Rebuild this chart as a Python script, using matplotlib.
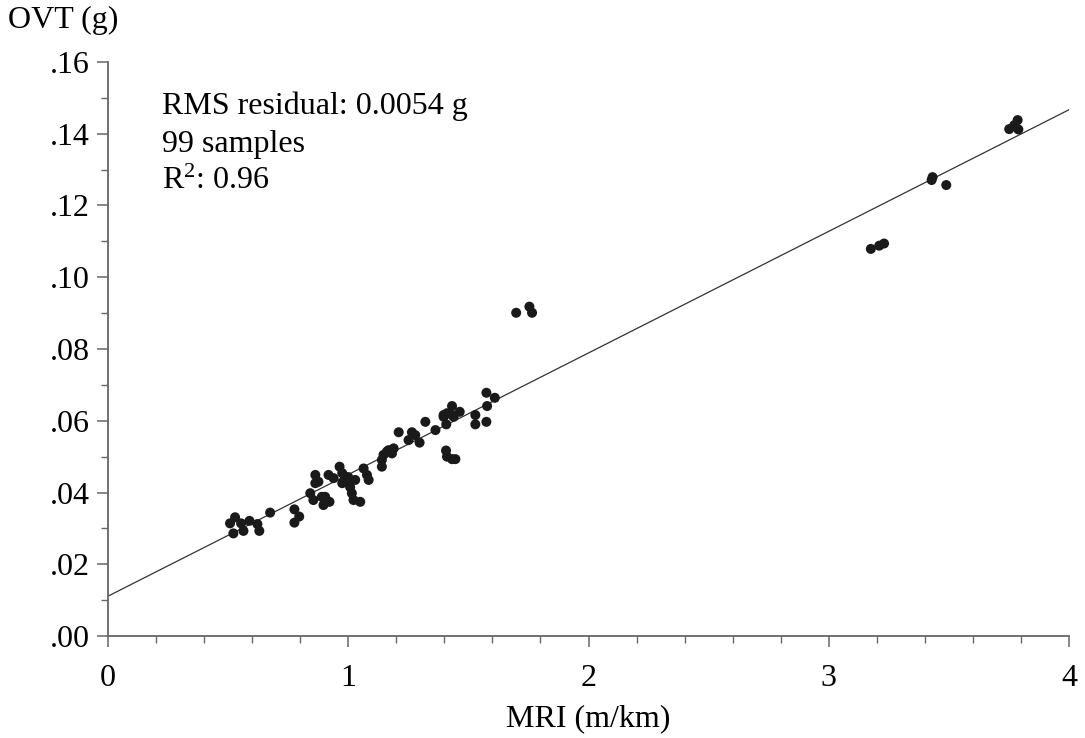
import matplotlib
matplotlib.use("Agg")
import matplotlib.pyplot as plt
from matplotlib.ticker import MultipleLocator, FuncFormatter

plt.rcParams['font.family'] = ['Liberation Serif', 'DejaVu Serif']
plt.rcParams['mathtext.fontset'] = 'custom'
plt.rcParams['mathtext.rm'] = 'Liberation Serif'
plt.rcParams['mathtext.it'] = 'Liberation Serif:italic'

# MRI (m/km) and OVT (g)
mri = [0.508, 0.529, 0.554, 0.589, 0.622, 0.630, 0.564, 0.522, 0.675, 0.776,
       0.796, 0.776, 0.842, 0.855, 0.863, 0.863, 0.876, 0.890, 0.904, 0.897,
       0.922, 0.918, 0.939, 0.964, 0.975, 0.988, 0.996, 0.975, 1.008, 1.000,
       1.029, 1.015, 1.022, 1.050, 1.064, 1.078, 1.085, 1.140, 1.140, 1.147,
       1.161, 1.168, 1.189, 1.182, 1.210, 1.251, 1.265, 1.279, 1.297, 1.321,
       1.363, 1.408, 1.397, 1.411, 1.432, 1.432, 1.439, 1.397, 1.464, 1.407,
       1.411, 1.432, 1.446, 1.529, 1.529, 1.575, 1.578, 1.575, 1.610,
       1.699, 1.754, 1.765,
       3.175, 3.210, 3.230,
       3.432, 3.428, 3.489, 3.751, 3.772, 3.786, 3.789]
ovt = [0.0314, 0.0331, 0.0314, 0.0321, 0.0312, 0.0293, 0.0293, 0.0286, 0.0344, 0.0353,
       0.0333, 0.0316, 0.0398, 0.0379, 0.0449, 0.0426, 0.0430, 0.0388, 0.0388, 0.0365,
       0.0374, 0.0449, 0.0440, 0.0472, 0.0454, 0.0440, 0.0435, 0.0426, 0.0415, 0.0443,
       0.0435, 0.0398, 0.0379, 0.0374, 0.0467, 0.0449, 0.0435, 0.0472, 0.0491, 0.0505,
       0.0514, 0.0518, 0.0523, 0.0509, 0.0568, 0.0546, 0.0568, 0.0560, 0.0539, 0.0597,
       0.0574, 0.0590, 0.0616, 0.0621, 0.0641, 0.0616, 0.0611, 0.0611, 0.0625, 0.0517,
       0.0500, 0.0493, 0.0493, 0.0616, 0.0590, 0.0597, 0.0641, 0.0678, 0.0664,
       0.0901, 0.0918, 0.0901,
       0.1079, 0.1088, 0.1094,
       0.1279, 0.1271, 0.1257, 0.1413, 0.1424, 0.1438, 0.1412]

# regression line
intercept = 0.0111
slope = 0.0339

stats_text = "RMS residual: 0.0054 g\n99 samples\nR$^{2}$: 0.96"

fig = plt.figure(figsize=(10.85, 7.38), dpi=100)
ax = fig.add_axes([0.0995, 0.1382, 0.8858, 0.7778])

ax.plot([0, 4], [intercept, intercept + 4 * slope], color='#333333', lw=0.9, zorder=1)
ax.scatter(mri, ovt, s=52, color='#1a1a1a', edgecolors='none', zorder=2)

ax.set_xlim(0, 4)
ax.set_ylim(0, 0.16)
for side in ['top', 'right']:
    ax.spines[side].set_visible(False)
for side in ['left', 'bottom']:
    ax.spines[side].set_color('#666666')
    ax.spines[side].set_linewidth(1.3)

ax.xaxis.set_major_locator(MultipleLocator(1))
ax.xaxis.set_minor_locator(MultipleLocator(0.2))
ax.yaxis.set_major_locator(MultipleLocator(0.02))
ax.yaxis.set_minor_locator(MultipleLocator(0.01))
ax.yaxis.set_major_formatter(FuncFormatter(lambda v, p: f"{v:.2f}"[1:]))
ax.tick_params(which='major', length=8, width=1.1, color='#666666', labelsize=23)
ax.tick_params(axis='x', which='major', pad=12)
ax.tick_params(axis='y', which='major', pad=5)
ax.tick_params(which='minor', length=5, width=1.0, color='#666666')

ax.text(0.225, 0.1517, stats_text, fontsize=23, va='top', ha='left', linespacing=1.38)

fig.text(0.007, 0.972, "OVT (g)", fontsize=23, ha='left', va='center')
ax.set_xlabel("MRI (m/km)", fontsize=23, labelpad=8)

fig.savefig("out.png", dpi=100)
